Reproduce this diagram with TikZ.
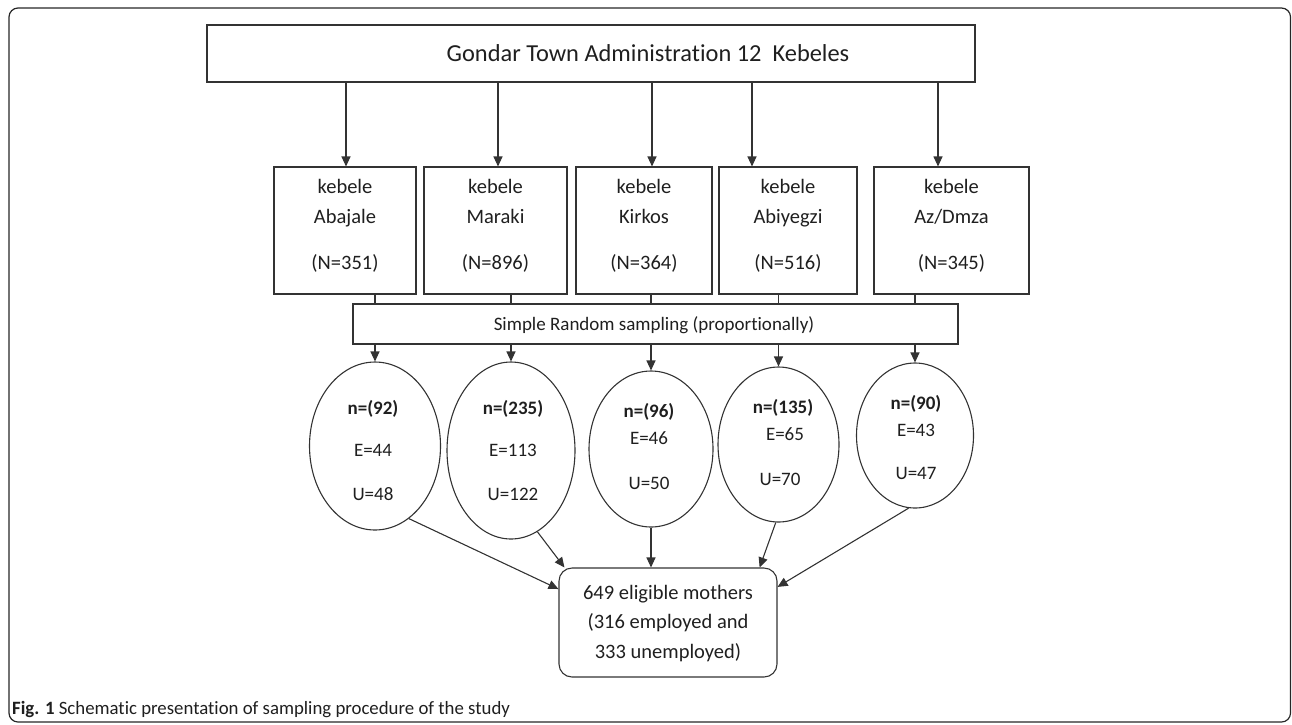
\documentclass[tikz,border=0pt]{standalone}
\usepackage{fontspec}
\setmainfont{Carlito}[Ligatures={NoCommon}]
\usetikzlibrary{shapes.geometric,arrows.meta,calc}
\begin{document}
\begin{tikzpicture}[x=1pt,y=-1pt,
  ln/.style={draw=black!80, line width=1.1pt},
  box/.style={draw=black!80, rectangle, inner sep=0pt, line width=1.1pt},
  ell/.style={draw=black!80, ellipse, inner sep=0pt, line width=1.1pt},
  arr/.style={ln, -{Triangle[length=10pt,width=9pt]}},
  txt/.style={anchor=base, inner sep=0pt, text=black!88},
  big/.style={txt, font=\fontsize{24.4}{28}\selectfont},
  mid/.style={txt, font=\fontsize{20.5}{24}\selectfont},
  sml/.style={txt, font=\fontsize{19}{23}\selectfont},
  bsml/.style={txt, font=\bfseries\fontsize{19}{23}\selectfont}]
\useasboundingbox (0,0) rectangle (1292,724);
\draw[rounded corners=9pt, line width=1.2pt, draw=black!85] (9,8) rectangle (1290.5,722);

% top box
\node[box, minimum width=768pt, minimum height=57pt] (top) at (591,53.5) {};
\node[big] (toptxt) at (648,61) {Gondar Town Administration 12\ \ Kebeles};

% kebele boxes
\node[box, minimum width=142pt, minimum height=127pt] (k1) at (345,230.5) {};
\node[box, minimum width=143pt, minimum height=127pt] (k2) at (495.5,230.5) {};
\node[box, minimum width=136pt, minimum height=127pt] (k3) at (644,230.5) {};
\node[box, minimum width=138pt, minimum height=127pt] (k4) at (788,230.5) {};
\node[box, minimum width=155pt, minimum height=127pt] (k5) at (951.5,230.5) {};

\node[mid] (k1a) at (345,193) {kebele};
\node[mid] (k1b) at (345,223) {Abajale};
\node[mid] (k1c) at (345,269) {(N=351)};
\node[mid] (k2a) at (495.5,193) {kebele};
\node[mid] (k2b) at (495.5,223) {Maraki};
\node[mid] (k2c) at (495.5,269) {(N=896)};
\node[mid] (k3a) at (644,193) {kebele};
\node[mid] (k3b) at (644,223) {Kirkos};
\node[mid] (k3c) at (644,269) {(N=364)};
\node[mid] (k4a) at (788,193) {kebele};
\node[mid] (k4b) at (788,223) {Abiyegzi};
\node[mid] (k4c) at (788,269) {(N=516)};
\node[mid] (k5a) at (951.5,193) {kebele};
\node[mid] (k5b) at (951.5,223) {Az/Dmza};
\node[mid] (k5c) at (951.5,269) {(N=345)};

% arrows from top
\coordinate (a1) at ([xshift=1pt]k1.north);
\coordinate (a2) at ([xshift=2.5pt]k2.north);
\coordinate (a3) at ([xshift=8pt]k3.north);
\coordinate (a4) at ([xshift=-36pt]k4.north);
\coordinate (a5) at ([xshift=-13.5pt]k5.north);
\foreach \i in {1,...,5} {\draw[arr] (top.south -| a\i) -- (a\i);}

% SRS box
\node[box, minimum width=605pt, minimum height=40pt] (srs) at (655.5,324) {};
\node[sml] (srstxt) at (654,330) {Simple Random sampling (proportionally)};

% ellipses
\node[ell, minimum width=131pt, minimum height=168pt] (e1) at (375,446) {};
\node[ell, minimum width=128pt, minimum height=177pt] (e2) at (511,450.5) {};
\node[ell, minimum width=124pt, minimum height=156pt] (e3) at (651,449) {};
\node[ell, minimum width=121pt, minimum height=155pt] (e4) at (778.5,444.5) {};
\node[ell, minimum width=117pt, minimum height=145pt] (e5) at (915,435.5) {};

\foreach \i in {1,...,5} {
  \draw[ln] (k\i.south -| e\i.north) -- (srs.north -| e\i.north);
  \draw[arr] (srs.south -| e\i.north) -- (e\i.north);
}

\node[bsml] (n1) at (373,414) {n=(92)};
\node[sml] (E1) at (373,456) {E=44};
\node[sml] (U1) at (373,500) {U=48};
\node[bsml] (n2) at (513,414) {n=(235)};
\node[sml] (E2) at (513,456) {E=113};
\node[sml] (U2) at (513,500) {U=122};
\node[bsml] (n3) at (649,417) {n=(96)};
\node[sml] (E3) at (649,444) {E=46};
\node[sml] (U3) at (649,489) {U=50};
\node[bsml] (n4) at (783,413) {n=(135)};
\node[sml] (E4) at (785,440) {E=65};
\node[sml] (U4) at (780,485) {U=70};
\node[bsml] (n5) at (916,409) {n=(90)};
\node[sml] (E5) at (916,436) {E=43};
\node[sml] (U5) at (916,479) {U=47};

% bottom box
\node[box, rounded corners=13pt, minimum width=218pt, minimum height=109pt] (bot) at (668,622.5) {};
\node[mid] (b1) at (668,599) {649 eligible mothers};
\node[mid] (b2) at (668,628) {(316 employed and};
\node[mid] (b3) at (668,658) {333 unemployed)};

\draw[arr] (e1.-65) -- (bot.163);
\draw[arr] (e2.-72) -- (bot.152);
\draw[arr] (e3.south) -- (e3.south |- bot.north);
\draw[arr] (e4.-92) -- (bot.31);
\draw[arr] (e5.-95) -- (bot.18);

% caption
\node[txt, anchor=base west, font=\fontsize{18.8}{22}\selectfont] (cap) at (12,714) {\textbf{Fig. 1} Schematic presentation of sampling procedure of the study};
\end{tikzpicture}
\end{document}
